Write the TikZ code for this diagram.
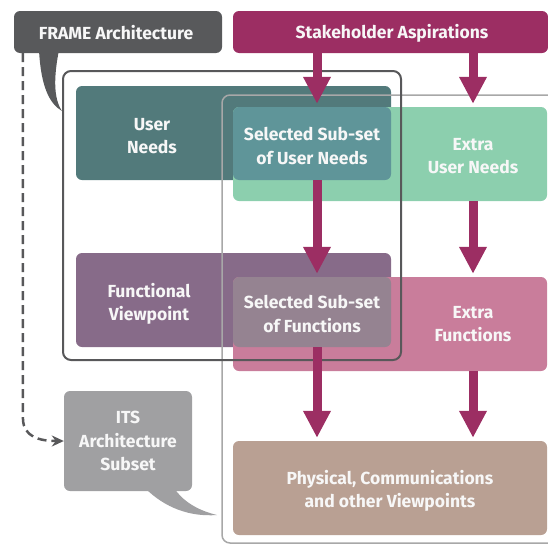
\documentclass[tikz,border=0pt]{standalone}
\usepackage{fontspec}
\setmainfont{Fira Sans}
\usetikzlibrary{arrows.meta,calc}
\definecolor{framegray}{HTML}{58595B}
\definecolor{stake}{HTML}{9C2E63}
\definecolor{userneeds}{HTML}{527A7B}
\definecolor{seluser}{HTML}{5F9599}
\definecolor{extrauser}{HTML}{8CCFAE}
\definecolor{func}{HTML}{876B89}
\definecolor{selfunc}{HTML}{958391}
\definecolor{extrafunc}{HTML}{C97D9B}
\definecolor{phys}{HTML}{B9A093}
\definecolor{itsgray}{HTML}{A0A0A2}
\definecolor{outline}{HTML}{58585A}
\definecolor{lightline}{HTML}{A8A8A8}
\begin{document}
\begin{tikzpicture}[x=1pt,y=-1pt,
  box/.style={rounded corners=6pt, inner sep=0pt, draw=none},
  lbl/.style={text=white!94!gray, font=\fontsize{17.5}{23.5}\selectfont\bfseries, align=center, inner sep=0pt},
  bigarrow/.style={draw=stake, line width=9pt, -{Triangle[width=26pt,length=27pt]}, shorten >=3pt},
  dasharrow/.style={draw=outline, line width=2.5pt, dash pattern=on 9pt off 5pt, -{Stealth[width=11pt,length=12pt]}}
]
\useasboundingbox (0,0) rectangle (548,546);
% coloured boxes
\node[box, fill=userneeds, minimum width=315pt, minimum height=94pt] (un) at (233.5,133) {};
\node[box, fill=extrauser, minimum width=314pt, minimum height=94pt] (eun) at (390,154) {};
\node[box, fill=seluser, minimum width=158pt, minimum height=73pt] (sun) at (312,143.5) {};
\node[box, fill=func, minimum width=315pt, minimum height=94pt] (fv) at (233.5,300) {};
\node[box, fill=extrafunc, minimum width=314pt, minimum height=94pt] (ef) at (390,324) {};
\node[box, fill=selfunc, minimum width=158pt, minimum height=70pt] (sf) at (312,312) {};
\node[box, fill=phys, minimum width=314pt, minimum height=94pt] (pv) at (390,488) {};
% callouts
\node[box, fill=framegray, minimum width=208pt, minimum height=42pt] (frame) at (118,32) {};
\fill[framegray] (39,50) .. controls (41,88) and (50,104) .. (62,111) .. controls (53,98) and (54,75) .. (59,50) -- cycle;
\node[box, fill=stake, minimum width=315pt, minimum height=42pt] (stake) at (390.5,32) {};
\node[box, fill=itsgray, minimum width=128pt, minimum height=100pt] (its) at (128,441) {};
\fill[itsgray] (145,488) .. controls (165,508) and (190,517) .. (217,515) .. controls (196,510) and (182,500) .. (174,488) -- cycle;
% outlines
\draw[lightline, line width=1.5pt, rounded corners=8pt] (560,95) -- (222,95) -- (222,543) -- (560,543);
\draw[outline, line width=2pt, rounded corners=8pt] (63,71) rectangle (401,360);
% arrows
\coordinate (c1) at (317,0);
\coordinate (c2) at (473,0);
\draw[bigarrow] (stake.south -| c1) -- (sun.north -| c1);
\draw[bigarrow] (stake.south -| c2) -- (eun.north -| c2);
\draw[bigarrow] (sun.south -| c1) -- (sf.north -| c1);
\draw[bigarrow] (eun.south -| c2) -- (ef.north -| c2);
\draw[bigarrow] (sf.south -| c1) -- (pv.north -| c1);
\draw[bigarrow] (ef.south -| c2) -- (pv.north -| c2);
% dashed arrow
\coordinate (dstart) at ($(frame.south west)+(9,0)$);
\draw[dasharrow] (dstart) -- (23,420) .. controls (24,436) and (38,441) .. (its.west);
% labels
\node[lbl] (tframe) at (116,33) {FRAME Architecture};
\node[lbl] (tstake) at (392,33) {Stakeholder Aspirations};
\node[lbl] (tun) at (152,136) {User\\Needs};
\node[lbl] (tsun) at (312,146) {Selected Sub-set\\of User Needs};
\node[lbl] (teun) at (473,156) {Extra\\User Needs};
\node[lbl] (tfv) at (149,304) {Functional\\Viewpoint};
\node[lbl] (tsf) at (312,314) {Selected Sub-set\\of Functions};
\node[lbl] (tef) at (473,324) {Extra\\Functions};
\node[lbl] (tits) at (128,441) {ITS\\Architecture\\Subset};
\node[lbl] (tpv) at (390,491) {Physical, Communications\\and other Viewpoints};
\end{tikzpicture}
\end{document}
